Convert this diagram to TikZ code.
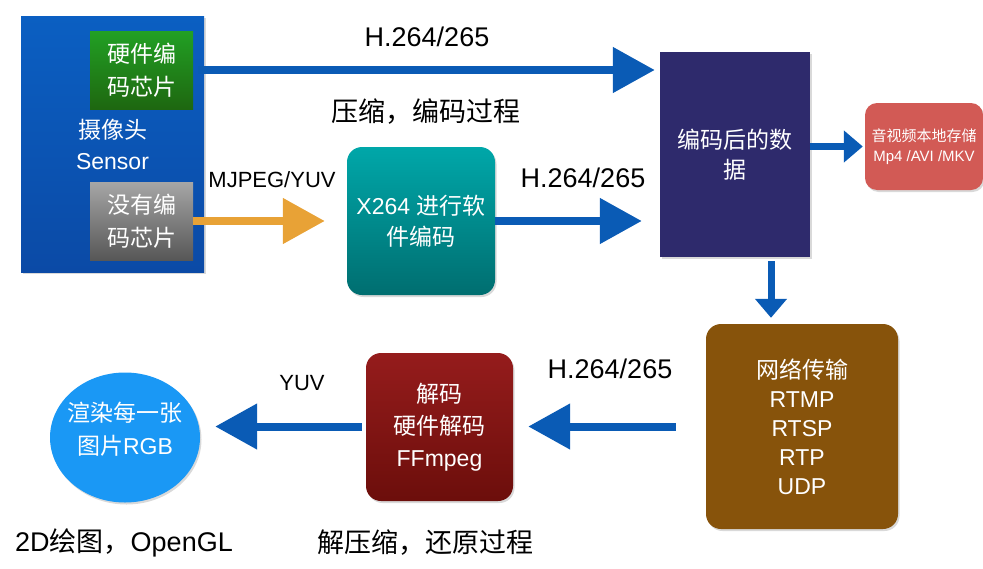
\documentclass[tikz,border=0pt]{standalone}
\usepackage{fontspec}
\setmainfont{Liberation Sans}
\newfontfamily\zhfont{Noto Sans CJK SC}
\newcommand{\zh}[1]{{\zhfont #1}}
\usetikzlibrary{positioning,shapes,shadows,arrows.meta}
\definecolor{sensortop}{HTML}{0B5FC2}
\definecolor{sensorbot}{HTML}{0B4AA6}
\definecolor{chiptop}{HTML}{22A024}
\definecolor{chipbot}{HTML}{1E6710}
\definecolor{softtop}{HTML}{00A7A9}
\definecolor{softbot}{HTML}{006E70}
\definecolor{dectop}{HTML}{951C1C}
\definecolor{decbot}{HTML}{6C0E0B}
\definecolor{flowblue}{HTML}{0A5BB5}
\definecolor{flowgold}{HTML}{E8A236}
\definecolor{encnavy}{HTML}{2E2A6C}
\definecolor{storered}{HTML}{D25A55}
\definecolor{netbrown}{HTML}{87530B}
\definecolor{rgbblue}{HTML}{1A98F5}
\tikzset{
	basic/.style  = {inner sep=0pt, align=center, text=white,
		font=\fontsize{23}{31}\selectfont},
	chip/.style   = {basic, font=\fontsize{23}{33}\selectfont\zhfont,
		minimum width=103pt, minimum height=78pt},
	block/.style  = {basic, rounded corners=15pt,
		drop shadow={opacity=0.3, shadow xshift=1.5pt, shadow yshift=-2pt}},
	note/.style   = {inner sep=0pt, text=black, font=\fontsize{27}{31}\selectfont},
	small note/.style = {note, font=\fontsize{22}{26}\selectfont},
	flow/.style   = {draw=flowblue, line width=8pt,
		-{Triangle[length=42pt, width=44pt]}},
	short flow/.style = {draw=flowblue, line width=7pt,
		-{Triangle[length=19pt, width=31pt]}}
}

\begin{document}
\begin{tikzpicture}[x=1pt, y=-1pt]
	\useasboundingbox (0,0) rectangle (983,568);
	
	% camera and its two kinds of chips
	\node[basic, top color=sensortop, bottom color=sensorbot,
		minimum width=183pt, minimum height=256pt,
		drop shadow={opacity=0.3, shadow xshift=1.5pt, shadow yshift=-2pt}] (cam) at (112.5,144)
		{\zh{摄像头}\\Sensor};
	\node[chip, top color=chiptop, bottom color=chipbot] (hw) at (141.5,70) {硬件编\\码芯片};
	\node[chip, top color=black!35, bottom color=black!66] (nohw) at (141.5,221) {没有编\\码芯片};
	
	% encoding side
	\node[block, top color=softtop, bottom color=softbot,
		minimum width=148pt, minimum height=148pt] (x264) at (421,221)
		{X264 \zh{进行软}\\\zh{件编码}};
	\node[basic, fill=encnavy, font=\fontsize{23}{30}\selectfont\zhfont,
		minimum width=150pt, minimum height=205pt,
		drop shadow={opacity=0.3, shadow xshift=1.5pt, shadow yshift=-2pt}] (enc) at (735,154.5)
		{编码后的数\\据};
	\node[block, fill=storered, rounded corners=12pt, font=\fontsize{15}{20}\selectfont,
		minimum width=118pt, minimum height=87pt] (store) at (924,146.5)
		{\zh{音视频本地存储}\\Mp4 /AVI /MKV};
	
	% decoding side
	\node[block, fill=netbrown, font=\fontsize{23}{29}\selectfont,
		minimum width=192pt, minimum height=205pt] (net) at (802,426.5)
		{\zh{网络传输}\\RTMP\\RTSP\\RTP\\UDP};
	\node[block, top color=dectop, bottom color=decbot,
		font=\fontsize{23}{32}\selectfont,
		minimum width=147pt, minimum height=148pt] (dec) at (439.5,427)
		{\zh{解码}\\\zh{硬件解码}\\FFmpeg};
	\node[ellipse, fill=rgbblue, inner sep=0pt,
		minimum width=150pt, minimum height=130pt,
		drop shadow={opacity=0.3, shadow xshift=1.5pt, shadow yshift=-2pt}] (rgb) at (125,437.5) {};
	\node[basic, font=\fontsize{23}{33}\selectfont] (rgbtext) at ([yshift=8pt]rgb.center)
		{\zh{渲染每一张}\\\zh{图片}RGB};
	
	% labels
	\node[note] (h1) at (427,37) {H.264/265};
	\node[note, font=\fontsize{27}{31}\selectfont\zhfont] (zip) at (426,112) {压缩，编码过程};
	\node[small note] (mj) at (272,180) {MJPEG/YUV};
	\node[note] (h2) at (583,178) {H.264/265};
	\node[note] (h3) at (610,369) {H.264/265};
	\node[small note] (yuv) at (302,383) {YUV};
	\node[note] (gl) at (124,543) {2D\zh{绘图，}OpenGL};
	\node[note, font=\fontsize{27}{31}\selectfont\zhfont] (unzip) at (425,543) {解压缩，还原过程};
	
	% connectors
	\coordinate (drop) at (771,261);
	\draw[flow, shorten <=5pt, shorten >=5pt] (hw.east) -- (hw.east -| enc.west);
	\draw[flow, draw=flowgold, shorten >=22pt] (nohw.east) -- (nohw.east -| x264.west);
	\draw[flow, shorten >=18pt] (x264.east) -- (x264.east -| enc.west);
	\draw[short flow, shorten >=2pt] (store.west -| enc.east) -- (store.west);
	\draw[short flow, shorten >=6pt] (drop) -- (drop |- net.north);
	\draw[flow, shorten <=30pt, shorten >=15pt] (net.west) -- (net.west -| dec.east);
	\draw[flow, shorten <=4pt, shorten >=15pt] (net.west -| dec.west) -- (net.west -| rgb.east);
\end{tikzpicture}
\end{document}
